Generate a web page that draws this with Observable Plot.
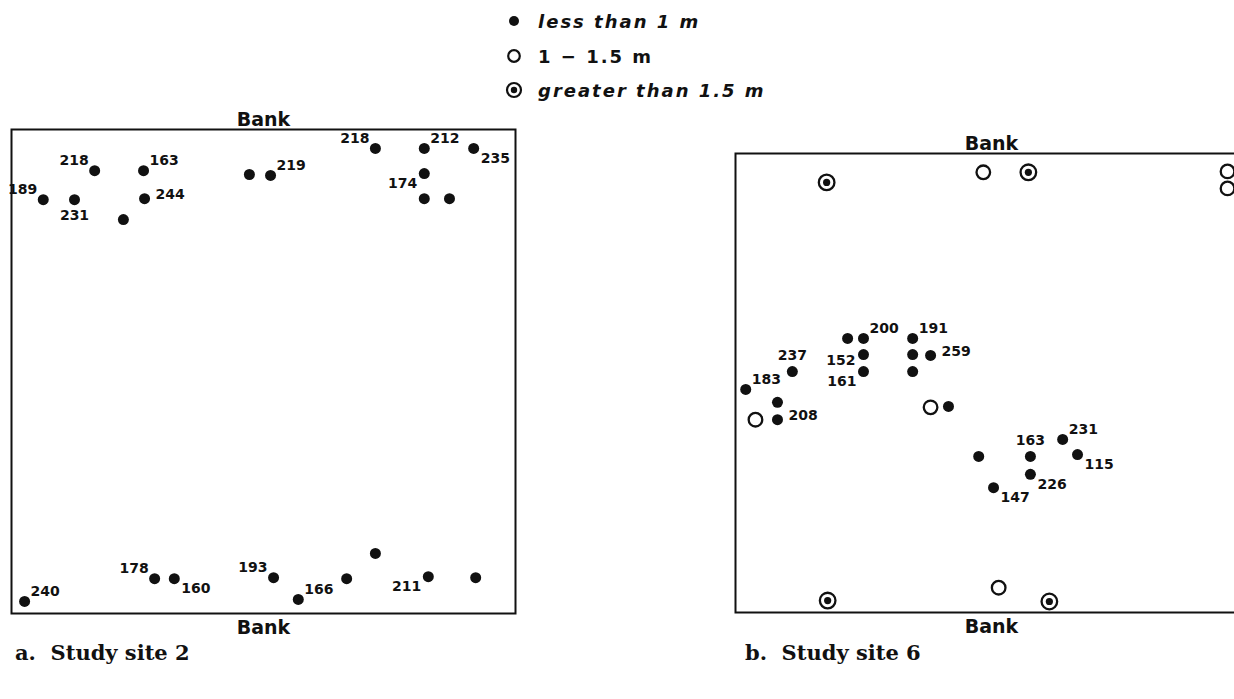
<!DOCTYPE html>
<html>
<head>
<meta charset="utf-8">
<script src="https://cdn.jsdelivr.net/npm/d3@7"></script>
<script src="https://cdn.jsdelivr.net/npm/@observablehq/plot@0.6"></script>
<style>
  html, body { margin: 0; padding: 0; background: #fff; }
  body { width: 1234px; height: 699px; overflow: hidden; position: relative; }
  .abs { position: absolute; }
  .legend { left: 503px; top: 0px; font-family: "DejaVu Sans", sans-serif; font-weight: bold; font-size: 18px; color: #111; }
  .legend .row { position: absolute; left: 0; height: 24px; display: flex; align-items: center; white-space: pre; }
  .legend svg { width: 22px; height: 22px; margin-right: 13px; }
  .legend .it { font-style: italic; letter-spacing: 2px; }
  .legend .up { letter-spacing: 2px; }
  .caption { font-family: "DejaVu Serif", serif; font-weight: bold; font-size: 21px; color: #111; white-space: pre; }
  .panel svg { max-width: none !important; }
</style>
</head>
<body>
<div class="abs legend" id="legend"></div>
<div class="abs panel" id="site2" style="left:0px; top:95px; width:560px;"></div>
<div class="abs panel" id="site6" style="left:724px; top:119px; width:560px;"></div>
<div class="abs caption" style="left:15px; top:640px;">a.  Study site 2</div>
<div class="abs caption" style="left:745px; top:640px;">b.  Study site 6</div>
<script>
// ---------- DATA (positions in % of the box: along-stream 0..100 left→right, across-stream 0..100 top bank→bottom bank)
// Study site 2
const site2Along  = [6.3, 12.5, 16.5, 26.2, 26.4, 22.2, 47.2, 51.4, 72.2, 81.9, 91.7, 81.9, 81.9, 86.9,
                     2.6, 28.4, 32.3, 52.0, 56.9, 66.5, 72.2, 82.7, 92.1];
const site2Across = [14.5, 14.5, 8.5, 8.5, 14.3, 18.6, 9.3, 9.5, 3.9, 3.9, 3.9, 9.1, 14.3, 14.3,
                     97.5, 92.8, 92.8, 92.6, 97.1, 92.8, 87.6, 92.4, 92.6];
const site2Depth  = ["lt1","lt1","lt1","lt1","lt1","lt1","lt1","lt1","lt1","lt1","lt1","lt1","lt1","lt1",
                     "lt1","lt1","lt1","lt1","lt1","lt1","lt1","lt1","lt1"];
const site2Length = ["189","231","218","163","244","","","219","218","212","235","174","","",
                     "240","178","160","193","166","","","211",""];
const site2Side   = ["nw","s","nw","ne","e","","","ne","nw","ne","se","sw","","",
                     "ne","nw","se","nw","ne","","","sw",""];

// Study site 6
const site6Along  = [17.8, 48.4, 57.2, 96.1, 96.1, 2.0, 11.1, 8.2, 8.2, 3.9, 21.9, 25.0, 25.0, 25.0,
                     34.6, 34.6, 38.1, 34.6, 38.1, 41.6, 47.5, 57.6, 63.9, 66.8, 57.6, 50.4, 18.0, 51.4, 61.3];
const site6Across = [6.3, 4.1, 4.1, 3.9, 7.6, 51.4, 47.5, 54.2, 58.0, 58.0, 40.3, 40.3, 43.8, 47.5,
                     40.3, 43.8, 44.0, 47.5, 55.3, 55.1, 66.0, 66.0, 62.3, 65.6, 69.9, 72.8, 97.4, 94.6, 97.6];
const site6Depth  = ["gt15","mid","gt15","mid","mid","lt1","lt1","lt1","lt1","mid","lt1","lt1","lt1","lt1",
                     "lt1","lt1","lt1","lt1","mid","lt1","lt1","lt1","lt1","lt1","lt1","lt1","gt15","mid","gt15"];
const site6Length = ["","","","","","183","237","","208","","","200","152","161",
                     "191","","259","","","","","163","231","115","226","147","","",""];
const site6Side   = ["","","","","","ne","n","","e","","","ne","w","sw",
                     "ne","","e","","","","","n","ne","se","se","se","","",""];

const bankLabels = ["Bank", "Bank"];
const legendCategories = ["lt1", "mid", "gt15"];
const legendTexts = ["less than 1 m", "1 \u2212 1.5 m", "greater than 1.5 m"];

// ---------- STYLE
const INK = "#111";
const FONT = "DejaVu Sans";
const sideStyle = {
  ne: {dx: 6, dy: -10, textAnchor: "start"},
  nw: {dx: -6, dy: -10, textAnchor: "end"},
  se: {dx: 7, dy: 10, textAnchor: "start"},
  sw: {dx: -7, dy: 10, textAnchor: "end"},
  e:  {dx: 11, dy: -4, textAnchor: "start"},
  w:  {dx: -8, dy: 6, textAnchor: "end"},
  n:  {dx: 0, dy: -16, textAnchor: "middle"},
  s:  {dx: 0, dy: 16, textAnchor: "middle"}
};

function buildRows(along, across, depth, length, side) {
  return along.map((a, i) => ({along: a, across: across[i], depth: depth[i], length: length[i], side: side[i]}));
}

function panel(rows, boxW, boxH) {
  const m = {top: 34, left: 11, right: 20, bottom: 70};
  const marks = [
    Plot.frame({stroke: INK, strokeWidth: 2}),
    Plot.text([bankLabels[0]], {frameAnchor: "top", dy: -17, fontSize: 19, fontWeight: "bold", fontFamily: FONT, fill: INK}),
    Plot.text([bankLabels[1]], {frameAnchor: "bottom", dy: 20, fontSize: 19, fontWeight: "bold", fontFamily: FONT, fill: INK}),
    Plot.dot(rows.filter(d => d.depth === "lt1"), {x: "along", y: "across", r: 5.5, fill: INK, stroke: null}),
    Plot.dot(rows.filter(d => d.depth === "mid"), {x: "along", y: "across", r: 6.8, fill: "white", stroke: INK, strokeWidth: 2.3}),
    Plot.dot(rows.filter(d => d.depth === "gt15"), {x: "along", y: "across", r: 7.8, fill: "white", stroke: INK, strokeWidth: 2.3}),
    Plot.dot(rows.filter(d => d.depth === "gt15"), {x: "along", y: "across", r: 3.6, fill: INK, stroke: null})
  ];
  for (const [s, st] of Object.entries(sideStyle)) {
    const sub = rows.filter(d => d.side === s && d.length);
    if (!sub.length) continue;
    marks.push(Plot.text(sub, {x: "along", y: "across", text: "length", dx: st.dx, dy: st.dy, textAnchor: st.textAnchor,
      fontSize: 14, fontWeight: "bold", fontFamily: FONT, fill: INK}));
  }
  return Plot.plot({
    width: m.left + boxW + m.right,
    height: m.top + boxH + m.bottom,
    marginTop: m.top, marginLeft: m.left, marginRight: m.right, marginBottom: m.bottom,
    x: {domain: [0, 100], axis: null},
    y: {domain: [0, 100], reverse: true, axis: null},
    style: {background: "transparent", overflow: "visible", fontFamily: FONT, maxWidth: "none"},
    marks
  });
}

document.getElementById("site2").append(panel(buildRows(site2Along, site2Across, site2Depth, site2Length, site2Side), 504, 484));
document.getElementById("site6").append(panel(buildRows(site6Along, site6Across, site6Depth, site6Length, site6Side), 512, 459));

// ---------- LEGEND
const symbolSvg = {
  lt1: `<svg viewBox="-11 -11 22 22"><circle r="5" fill="${INK}"/></svg>`,
  mid: `<svg viewBox="-11 -11 22 22"><circle r="5.8" fill="white" stroke="${INK}" stroke-width="2.2"/></svg>`,
  gt15: `<svg viewBox="-11 -11 22 22"><circle r="7" fill="white" stroke="${INK}" stroke-width="2.2"/><circle r="3.2" fill="${INK}"/></svg>`
};
const legendRowsY = [9, 44, 78];
const leg = document.getElementById("legend");
legendCategories.forEach((c, i) => {
  const row = document.createElement("div");
  row.className = "row";
  row.style.top = legendRowsY[i] + "px";
  row.innerHTML = symbolSvg[c] + `<span class="${c === "mid" ? "up" : "it"}">${legendTexts[i]}</span>`;
  leg.append(row);
});
</script>
</body>
</html>
